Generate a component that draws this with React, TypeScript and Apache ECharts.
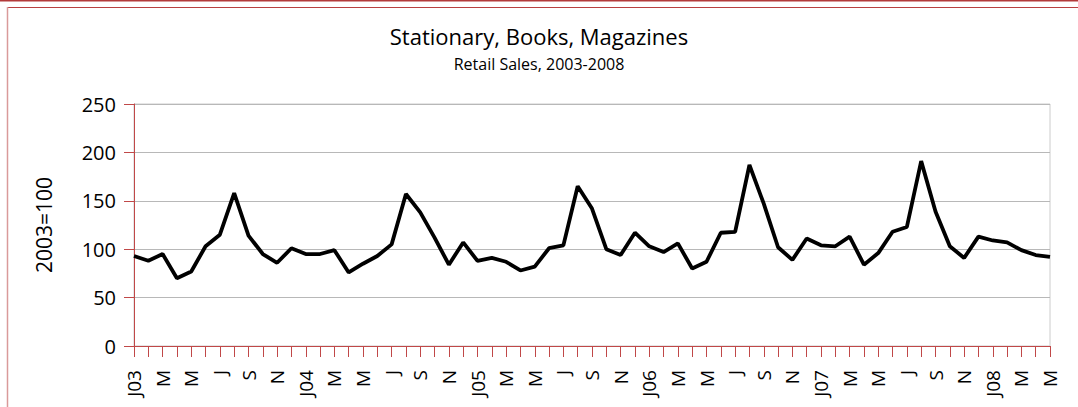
import React, { useEffect, useRef } from "react";
import * as echarts from "echarts";

const monthLetters = ["F", "M", "A", "M", "J", "J", "A", "S", "O", "N", "D"];
const years = ["03", "04", "05", "06", "07", "08"];
const monthsInLastYear = 5;

const categories: string[] = [];
years.forEach((y, yi) => {
  const count = yi === years.length - 1 ? monthsInLastYear : 12;
  for (let m = 0; m < count; m++) {
    categories.push(m === 0 ? "J" + y : monthLetters[m - 1]);
  }
});

const salesIndex = [
  93, 88, 95, 70, 77, 103, 115, 158, 114, 95, 86, 101,
  95, 95, 99, 76, 85, 93, 105, 157, 138, 112, 84, 107,
  88, 91, 87, 78, 82, 101, 104, 165, 142, 100, 94, 117,
  103, 97, 106, 80, 87, 117, 118, 187, 147, 102, 89, 111,
  104, 103, 113, 84, 96, 118, 123, 191, 139, 103, 91, 113,
  109, 107, 99, 94, 92,
];

const yTicks = { min: 0, max: 250, interval: 50 };

export default function App() {
  const ref = useRef<HTMLDivElement>(null);
  useEffect(() => {
    document.body.style.margin = "0";
    if (!ref.current) return;
    const chart = echarts.init(ref.current, null, { renderer: "svg" });
    const font = "Open Sans";
    chart.setOption({
      animation: false,
      backgroundColor: "#ffffff",
      textStyle: { fontFamily: font, color: "#000" },
      title: {
        text: "Stationary, Books, Magazines",
        subtext: "Retail Sales, 2003-2008",
        left: "center",
        top: 20,
        itemGap: 9,
        textStyle: { fontFamily: font, fontSize: 22, fontWeight: "normal", color: "#000" },
        subtextStyle: { fontFamily: font, fontSize: 16, color: "#000" },
      },
      graphic: [
        { type: "rect", shape: { x: 0, y: 0, width: 1078, height: 1.5 }, style: { fill: "#b23a3a" } },
        { type: "line", shape: { x1: 7, y1: 7.5, x2: 1078, y2: 7.5 }, style: { stroke: "#b84040", lineWidth: 1 } },
        { type: "line", shape: { x1: 7.5, y1: 7, x2: 7.5, y2: 407 }, style: { stroke: "#d99a9a", lineWidth: 1.5 } },
      ],
      grid: {
        left: 134,
        right: 28,
        top: 104,
        bottom: 61,
        show: true,
        borderColor: "#cccccc",
        borderWidth: 1,
      },
      xAxis: {
        type: "category",
        data: categories,
        boundaryGap: false,
        axisLine: { lineStyle: { color: "#c04848", width: 1 } },
        axisTick: { interval: 0, length: 11, lineStyle: { color: "#c04848" } },
        axisLabel: {
          interval: 1,
          rotate: 90,
          margin: 24,
          fontFamily: font,
          fontSize: 19,
          color: "#000",
        },
        splitLine: { show: false },
      },
      yAxis: {
        type: "value",
        min: yTicks.min,
        max: yTicks.max,
        interval: yTicks.interval,
        name: "2003=100",
        nameLocation: "middle",
        nameGap: 80,
        nameTextStyle: { fontFamily: font, fontSize: 21, color: "#000" },
        axisLine: { show: true, lineStyle: { color: "#c04848", width: 1 } },
        axisTick: { show: true, length: 10, lineStyle: { color: "#c04848" } },
        axisLabel: { margin: 18, fontFamily: font, fontSize: 20, color: "#000" },
        splitLine: { lineStyle: { color: "#b8b8b8", width: 1 } },
      },
      series: [
        {
          type: "line",
          data: salesIndex,
          symbol: "none",
          lineStyle: { color: "#000", width: 3.8 },
        },
      ],
    });
    return () => chart.dispose();
  }, []);
  return <div ref={ref} style={{ width: 1078, height: 407 }} />;
}
